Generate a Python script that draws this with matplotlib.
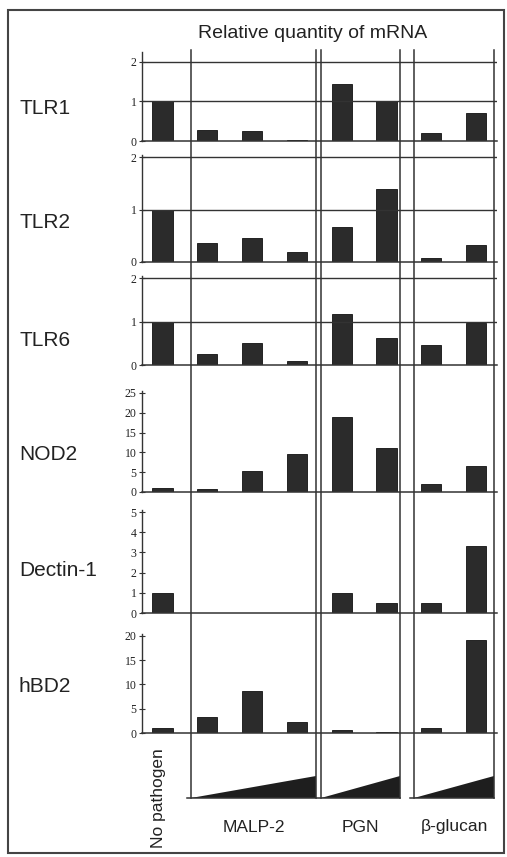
import numpy as np
import matplotlib.pyplot as plt
from matplotlib.patches import Polygon, Rectangle

plt.rcParams['font.family'] = ['Liberation Sans', 'DejaVu Sans']

# data
genes = ['TLR1', 'TLR2', 'TLR6', 'NOD2', 'Dectin-1', 'hBD2']
groups = ['No pathogen', 'MALP-2', 'PGN', 'β-glucan']
n_per_group = [1, 3, 2, 2]

tlr1 = [1.0, 0.28, 0.26, 0.03, 1.44, 1.0, 0.2, 0.7]
tlr2 = [1.0, 0.37, 0.45, 0.2, 0.66, 1.4, 0.08, 0.33]
tlr6 = [1.0, 0.25, 0.5, 0.1, 1.17, 0.63, 0.46, 0.96]
nod2 = [1.0, 0.7, 5.3, 9.7, 18.9, 11.1, 1.9, 6.6]
dectin1 = [1.0, 0.0, 0.0, 0.0, 1.0, 0.5, 0.5, 3.3]
hbd2 = [1.0, 3.2, 8.7, 2.3, 0.6, 0.2, 1.0, 19.2]
values = [tlr1, tlr2, tlr6, nod2, dectin1, hbd2]

yticks = [[0, 1, 2], [0, 1, 2], [0, 1, 2],
          [0, 5, 10, 15, 20, 25], [0, 1, 2, 3, 4, 5], [0, 5, 10, 15, 20]]
grid_rows = [True, True, True, False, False, False]

# layout (pixels)
W, H = 507, 857
x0px, dx = 162.5, 44.8          # pixel of bar 0 and spacing between bars
left_px, right_px = 142, 497
# zero line pixel, top pixel, ymax for each panel
panel_px = [(141, 52, 2.25), (262, 155, 2.04), (365, 276, 2.05),
            (492, 391, 25.5), (613, 510, 5.1), (733, 634, 20.4)]
label_y = [108, 223, 340, 455, 570, 687]

line_c = '#333333'
bar_c = '#2b2b2b'

def px2x(p):
    return (p - x0px) / dx

fig = plt.figure(figsize=(W / 100, H / 100), dpi=100)

# overlay in pixel rows / bar units for dividers and wedges
ov = fig.add_axes([0, 0, 1, 1])
ov.set_xlim(px2x(0), px2x(W))
ov.set_ylim(H, 0)
ov.axis('off')

divs = [px2x(p) for p in (191, 316, 321, 400, 414, 494)]
for d in divs:
    ov.plot([d, d], [50, 798], color=line_c, lw=1.1)

boxes = [(divs[0], divs[1]), (divs[2], divs[3]), (divs[4], divs[5])]
for (a, b) in boxes:
    ov.plot([a - 0.1, b], [798, 798], color=line_c, lw=1.1)
    ov.add_patch(Polygon([(a, 798), (b, 798), (b, 776)], closed=True,
                         color='#1e1e1e', lw=0))

ov.text(px2x(158), 798, groups[0], rotation=90, ha='center', va='center',
        fontsize=12.5, color='#222222')
for (a, b), g in zip(boxes, groups[1:]):
    ov.text((a + b) / 2, 827, g, ha='center', va='center', fontsize=12.5,
            color='#222222')

x = np.arange(sum(n_per_group))
for i, gene in enumerate(genes):
    zero, top, ymax = panel_px[i]
    ax = fig.add_axes([left_px / W, 1 - zero / H,
                       (right_px - left_px) / W, (zero - top) / H])
    ax.patch.set_visible(False)
    ax.set_xlim(px2x(left_px), px2x(right_px))
    ax.set_ylim(0, ymax)
    ax.bar(x, values[i], width=0.45, color=bar_c, edgecolor='#111111', lw=0.6)
    if grid_rows[i]:
        for t in yticks[i][1:]:
            ax.axhline(t, color=line_c, lw=1.0)
    for s in ('top', 'right'):
        ax.spines[s].set_visible(False)
    ax.spines['left'].set_color(line_c)
    ax.spines['bottom'].set_color(line_c)
    ax.spines['left'].set_linewidth(1.0)
    ax.spines['bottom'].set_linewidth(1.1)
    ax.set_xticks([])
    ax.set_yticks(yticks[i], [str(t) for t in yticks[i]],
                  fontfamily='Liberation Serif', fontsize=8.5)
    ax.tick_params(axis='y', direction='inout', length=4, width=0.8,
                   pad=2, colors=line_c, labelcolor='#222222')
    fig.text(19 / W, 1 - label_y[i] / H, gene, ha='left', va='center',
             fontsize=15, color='#222222')

fig.text(313 / W, 1 - 33 / H, 'Relative quantity of mRNA', ha='center',
         va='center', fontsize=14, color='#222222')

fig.add_artist(Rectangle((8 / W, 4 / H), (504 - 8) / W, (853 - 10) / H,
                         transform=fig.transFigure, fill=False,
                         edgecolor='#444444', lw=1.5))

fig.savefig('out.png', dpi=100)
